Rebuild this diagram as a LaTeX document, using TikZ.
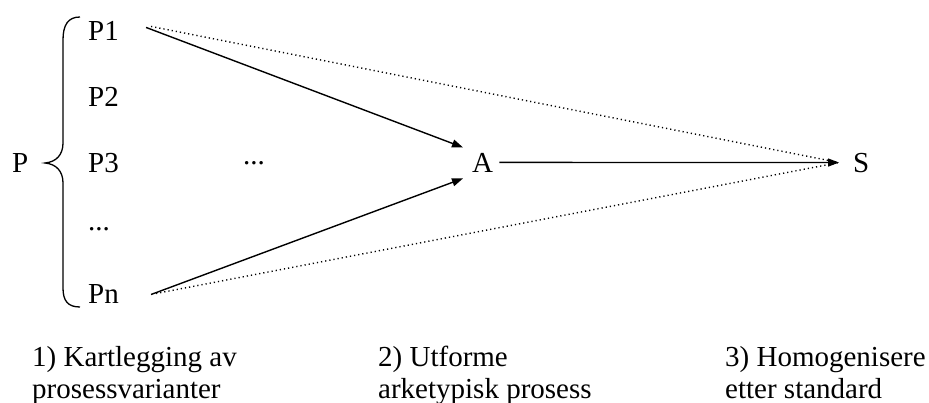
\documentclass[tikz,border=0pt]{standalone}
\usepackage{fontspec}
\setmainfont{Liberation Serif}
\usetikzlibrary{arrows.meta,calc}
\begin{document}
\begin{tikzpicture}[x=1pt,y=-1pt,
  lbl/.style={inner sep=0pt, anchor=base west, font=\fontsize{29}{32}\selectfont},
  stage/.style={lbl, align=left},
  flow/.style={line width=1.4pt, -{Triangle[length=11pt,width=8pt]}},
  trace/.style={line width=1.4pt, dash pattern=on 1.2pt off 3pt},
  bracket/.style={line width=1.3pt}]
\useasboundingbox (0,0) rectangle (929,403);

% process variants
\node[lbl] (P)  at (12,173)  {P};
\node[lbl] (p1) at (88,41)   {P1};
\node[lbl] (p2) at (88,107)  {P2};
\node[lbl] (p3) at (88,173)  {P3};
\node[lbl] (pd) at (88,231)  {...};
\node[lbl] (pn) at (88,304)  {Pn};
\node[lbl] (md) at (243,165) {...};

% archetype and standard
\node[lbl] (A) at (472,173) {A};
\node[lbl] (S) at (853,173) {S};

% brace grouping the variants
\draw[bracket] (80,17) .. controls (68,17) and (63,25) .. (63,40)
  -- (63,143) .. controls (63,155) and (56,162) .. (45,163)
  .. controls (56,164) and (63,171) .. (63,183)
  -- (63,288) .. controls (63,301) and (68,307) .. (80,307);

% connectors
\coordinate (p1s) at ($(p1.east)+(27,-4)$);
\coordinate (pns) at ($(pn.east)+(32,0)$);
\coordinate (p1d) at ($(p1.east)+(32,-5)$);
\coordinate (pnd) at ($(pn.east)+(37,-1)$);
\coordinate (ain1) at ($(A.west)+(-9,-16)$);
\coordinate (ain2) at ($(A.west)+(-9,15)$);
\coordinate (aout) at ($(A.east)+(6,-1)$);
\coordinate (sin)  at ($(S.west)+(-14,-1)$);

\draw[flow] (p1s) -- (ain1);
\draw[flow] (pns) -- (ain2);
\draw[flow] (aout) -- (sin);
\draw[trace] (p1d) -- (sin);
\draw[trace] (pnd) -- (sin);

% stage captions (base anchor sits on the second line)
\node[stage] (c1) at (32,398)  {1) Kartlegging av\\prosessvarianter};
\node[stage] (c2) at (378,398) {2) Utforme\\arketypisk prosess};
\node[stage] (c3) at (725,398) {3) Homogenisere\\etter standard};
\end{tikzpicture}
\end{document}
